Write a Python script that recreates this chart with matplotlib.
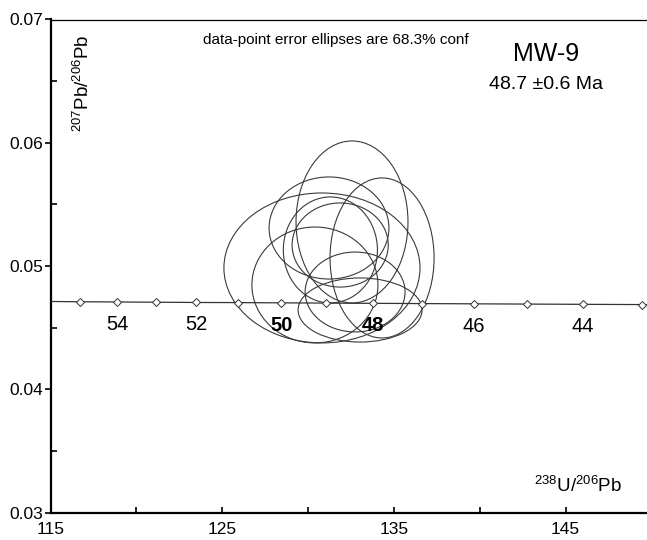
import matplotlib
matplotlib.use("Agg")
import matplotlib.pyplot as plt
from matplotlib.patches import Ellipse
from matplotlib.ticker import MultipleLocator, FixedLocator

plt.rcParams['font.family'] = ['Liberation Sans', 'DejaVu Sans']
plt.rcParams['mathtext.fontset'] = 'custom'
plt.rcParams['mathtext.rm'] = 'Liberation Sans'
plt.rcParams['mathtext.it'] = 'Liberation Sans'
plt.rcParams['mathtext.default'] = 'regular'

# ---- data ----
# Concordia marks (age in Ma)
conc_age = [55, 54, 53, 52, 51, 50, 49, 48, 47, 46, 45, 44, 43]
conc_x = [116.71, 118.88, 121.13, 123.47, 125.90, 128.43, 131.06, 133.80, 136.66, 139.64, 142.75, 146.01, 149.42]
conc_y = [0.04711, 0.04709, 0.04707, 0.04705, 0.04704, 0.04702, 0.04700, 0.04698, 0.04696, 0.04694, 0.04692, 0.04690, 0.04688]
line_x = [115.0] + conc_x + [150.0]
line_y = [0.04713] + conc_y + [0.04686]

label_ages = [54, 52, 50, 48, 46, 44]
label_bold = [False, False, True, True, False, False]

# Data-point error ellipses (centre, half-width, half-height)
ell_x = [132.56, 131.22, 134.31, 130.81, 130.40, 131.87, 132.74, 133.03, 131.30]
ell_y = [0.05358, 0.05309, 0.05066, 0.04985, 0.04847, 0.05171, 0.04790, 0.04644, 0.05131]
ell_sx = [3.26, 3.49, 3.03, 5.71, 3.67, 2.80, 2.91, 3.61, 2.74]
ell_sy = [0.00657, 0.00414, 0.00649, 0.00608, 0.00470, 0.00341, 0.00324, 0.00260, 0.00430]

x_major = [115, 125, 135, 145]
x_minor = [120, 130, 140]
y_major = [0.03, 0.04, 0.05, 0.06, 0.07]
y_major_labels = ['0.03', '0.04', '0.05', '0.06', '0.07']

# ---- figure ----
fig = plt.figure(figsize=(6.47, 5.40), dpi=100)
ax = fig.add_axes([50.5 / 647, (540 - 512.7) / 540, 596.5 / 647, 493.2 / 540])
ax.set_xlim(115, 149.74)
ax.set_ylim(0.03, 0.07)

for cx, cy, sx, sy in zip(ell_x, ell_y, ell_sx, ell_sy):
    ax.add_patch(Ellipse((cx, cy), 2 * sx, 2 * sy, fill=False,
                         edgecolor='#3a3a3a', linewidth=0.8, zorder=2))

ax.plot(line_x, line_y, color='#333333', linewidth=0.9, zorder=3)
ax.plot(conc_x, conc_y, linestyle='none', marker='D', markersize=3.8,
        markerfacecolor='white', markeredgecolor='#333333', markeredgewidth=0.7, zorder=4)

for age, bold in zip(label_ages, label_bold):
    i = conc_age.index(age)
    ax.annotate(str(age), (conc_x[i], conc_y[i]), xytext=(0, -16),
                textcoords='offset points', ha='center', va='center',
                fontsize=14.5, fontweight='bold' if bold else 'normal', zorder=5)

# spines
ax.spines['right'].set_visible(False)
ax.spines['left'].set_linewidth(1.6)
ax.spines['bottom'].set_linewidth(1.6)
ax.spines['top'].set_linewidth(0.9)

ax.xaxis.set_major_locator(FixedLocator(x_major))
ax.xaxis.set_minor_locator(FixedLocator(x_minor))
ax.set_xticklabels([str(v) for v in x_major])
ax.yaxis.set_major_locator(FixedLocator(y_major))
ax.yaxis.set_minor_locator(MultipleLocator(0.005))
ax.set_yticklabels(y_major_labels)

ax.tick_params(axis='x', which='both', direction='in', length=4, width=1.2,
               labelsize=12.5, pad=7, top=False)
ax.tick_params(axis='y', which='major', direction='out', length=4, width=1.2,
               labelsize=12.5, pad=1, right=False)
ax.tick_params(axis='y', which='minor', direction='in', length=4, width=1.2, right=False)

# texts
ax.text(0.4786, 0.9584, 'data-point error ellipses are 68.3% conf',
        transform=ax.transAxes, ha='center', va='center', fontsize=11)
ax.text(0.8307, 0.9300, 'MW-9', transform=ax.transAxes, ha='center', va='center', fontsize=18)
ax.text(0.8307, 0.8672, '48.7 \u00b10.6 Ma', transform=ax.transAxes, ha='center', va='center', fontsize=14)
ax.text(0.0545, 0.8713, r'$^{207}$Pb/$^{206}$Pb', transform=ax.transAxes,
        ha='center', va='center', rotation=90, fontsize=13.5)
ax.text(0.8843, 0.0541, r'$^{238}$U/$^{206}$Pb', transform=ax.transAxes,
        ha='center', va='center', fontsize=13.5)

fig.savefig('out.png', dpi=100)
